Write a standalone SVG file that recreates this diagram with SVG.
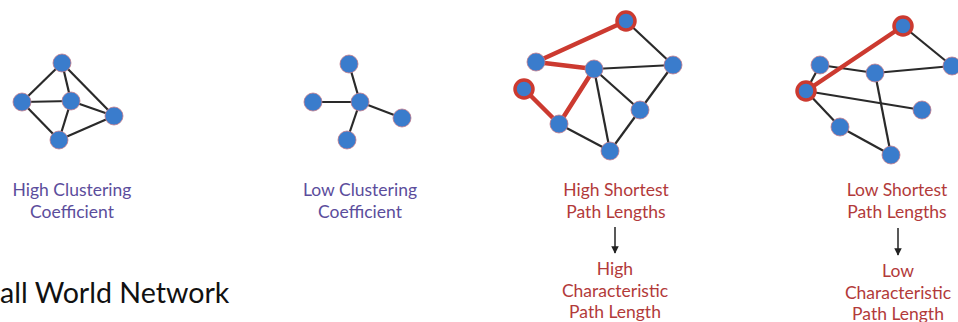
<svg xmlns="http://www.w3.org/2000/svg" width="958" height="322" viewBox="0 0 958 322">
<defs>
<style>
.e{stroke:#2a2a2a;stroke-width:2.2;fill:none}
.r{stroke:#cc3a30;stroke-width:4.5;fill:none;stroke-linecap:round}
.n{fill:#3a7ccc;stroke:#c07a8a;stroke-width:0.8}
.rn{fill:#3a7ccc;stroke:#cc3a30;stroke-width:3.5}
.lp{font-family:Lato,"Liberation Sans",sans-serif;font-size:17.5px;fill:#5b4d9c;text-anchor:middle}
.lr{font-family:Lato,"Liberation Sans",sans-serif;font-size:17.5px;fill:#b23a3a;text-anchor:middle}
.t{font-family:Lato,"Liberation Sans",sans-serif;font-size:28.6px;fill:#111}
</style>
<marker id="ah" viewBox="0 0 10 10" refX="9" refY="5" markerWidth="5" markerHeight="5" orient="auto"><path d="M0,0 L10,5 L0,10 z" fill="#222"/></marker>
</defs>
<rect width="958" height="322" fill="#fff"/>
<g id="connectors">
<line class="e" x1="62" y1="63" x2="22" y2="102"/>
<line class="e" x1="62" y1="63" x2="71" y2="101"/>
<line class="e" x1="62" y1="63" x2="114" y2="116"/>
<line class="e" x1="22" y1="102" x2="71" y2="101"/>
<line class="e" x1="22" y1="102" x2="59" y2="140"/>
<line class="e" x1="71" y1="101" x2="114" y2="116"/>
<line class="e" x1="71" y1="101" x2="59" y2="140"/>
<line class="e" x1="59" y1="140" x2="114" y2="116"/>
<line class="e" x1="360" y1="102" x2="349" y2="64"/>
<line class="e" x1="360" y1="102" x2="313" y2="102"/>
<line class="e" x1="360" y1="102" x2="402" y2="118"/>
<line class="e" x1="360" y1="102" x2="347" y2="140"/>
<line class="e" x1="626" y1="21" x2="673" y2="65"/>
<line class="e" x1="594" y1="69" x2="673" y2="65"/>
<line class="e" x1="594" y1="69" x2="640" y2="110"/>
<line class="e" x1="594" y1="69" x2="610" y2="151"/>
<line class="e" x1="673" y1="65" x2="640" y2="110"/>
<line class="e" x1="640" y1="110" x2="610" y2="151"/>
<line class="e" x1="559" y1="124" x2="610" y2="151"/>
<line class="r" x1="626" y1="21" x2="536" y2="62"/>
<line class="r" x1="536" y1="62" x2="594" y2="69"/>
<line class="r" x1="594" y1="69" x2="559" y2="124"/>
<line class="r" x1="559" y1="124" x2="524" y2="89"/>
<line class="e" x1="903" y1="26" x2="952" y2="66"/>
<line class="e" x1="820" y1="65" x2="875" y2="73"/>
<line class="e" x1="875" y1="73" x2="952" y2="66"/>
<line class="e" x1="820" y1="65" x2="806" y2="91"/>
<line class="e" x1="806" y1="91" x2="922" y2="110"/>
<line class="e" x1="806" y1="91" x2="840" y2="127"/>
<line class="e" x1="840" y1="127" x2="891" y2="155"/>
<line class="e" x1="875" y1="73" x2="891" y2="155"/>
<line class="r" x1="903" y1="26" x2="806" y2="91"/>
<line x1="615" y1="227" x2="615" y2="253" stroke="#222" stroke-width="1.5" marker-end="url(#ah)"/>
<line x1="898" y1="228" x2="898" y2="255" stroke="#222" stroke-width="1.5" marker-end="url(#ah)"/>
</g>
<g id="graph1">
<circle class="n" cx="62" cy="63" r="9"/>
<circle class="n" cx="22" cy="102" r="9"/>
<circle class="n" cx="71" cy="101" r="9"/>
<circle class="n" cx="114" cy="116" r="9"/>
<circle class="n" cx="59" cy="140" r="9"/>
</g>
<g id="graph2">
<circle class="n" cx="349" cy="64" r="9"/>
<circle class="n" cx="313" cy="102" r="9"/>
<circle class="n" cx="360" cy="102" r="9"/>
<circle class="n" cx="402" cy="118" r="9"/>
<circle class="n" cx="347" cy="140" r="9"/>
</g>
<g id="graph3">
<circle class="rn" cx="626" cy="21" r="9"/>
<circle class="n" cx="536" cy="62" r="9"/>
<circle class="n" cx="594" cy="69" r="9"/>
<circle class="n" cx="673" cy="65" r="9"/>
<circle class="rn" cx="524" cy="89" r="9"/>
<circle class="n" cx="640" cy="110" r="9"/>
<circle class="n" cx="559" cy="124" r="9"/>
<circle class="n" cx="610" cy="151" r="9"/>
</g>
<g id="graph4">
<circle class="rn" cx="903" cy="26" r="9"/>
<circle class="n" cx="820" cy="65" r="9"/>
<circle class="n" cx="875" cy="73" r="9"/>
<circle class="n" cx="952" cy="66" r="9"/>
<circle class="rn" cx="806" cy="91" r="9"/>
<circle class="n" cx="922" cy="110" r="9"/>
<circle class="n" cx="840" cy="127" r="9"/>
<circle class="n" cx="891" cy="155" r="9"/>
</g>
<g id="label1"><text class="lp" x="72" y="196">High Clustering</text><text class="lp" x="72" y="218">Coefficient</text></g>
<g id="label2"><text class="lp" x="360" y="196">Low Clustering</text><text class="lp" x="360" y="218">Coefficient</text></g>
<g id="label3"><text class="lr" x="616" y="196">High Shortest</text><text class="lr" x="616" y="218">Path Lengths</text>
<text class="lr" x="615" y="275">High</text><text class="lr" x="615" y="297">Characteristic</text><text class="lr" x="615" y="318">Path Length</text></g>
<g id="label4"><text class="lr" x="897" y="196">Low Shortest</text><text class="lr" x="897" y="218">Path Lengths</text>
<text class="lr" x="898" y="277">Low</text><text class="lr" x="898" y="299">Characteristic</text><text class="lr" x="898" y="320">Path Length</text></g>
<g id="title"><text class="t" x="0" y="303">all World Network</text></g>
</svg>
